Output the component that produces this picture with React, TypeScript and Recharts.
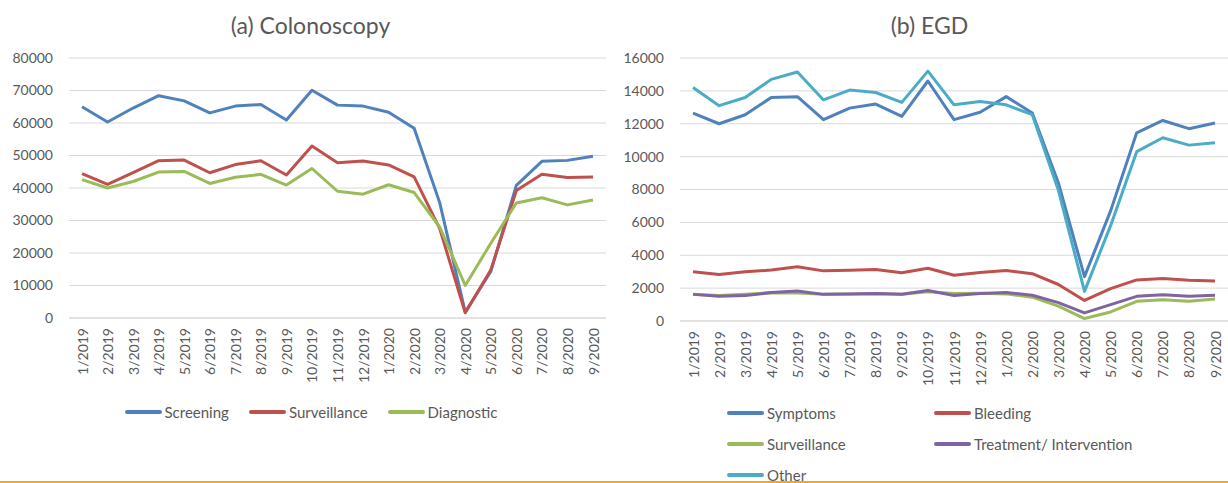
import { CartesianGrid, Legend, Line, LineChart, XAxis, YAxis } from "recharts"

const months = [
  "1/2019", "2/2019", "3/2019", "4/2019", "5/2019", "6/2019", "7/2019",
  "8/2019", "9/2019", "10/2019", "11/2019", "12/2019", "1/2020", "2/2020",
  "3/2020", "4/2020", "5/2020", "6/2020", "7/2020", "8/2020", "9/2020",
]

// (a) Colonoscopy
const screening = [65000, 60300, 64600, 68400, 66800, 63100, 65200, 65700, 60900, 70100, 65500, 65200, 63300, 58400, 35500, 1800, 14300, 40800, 48200, 48500, 49800]
const colonSurveillance = [44400, 41100, 44700, 48400, 48600, 44700, 47200, 48400, 44000, 52900, 47800, 48300, 47100, 43400, 27500, 1600, 14800, 39200, 44200, 43200, 43400]
const diagnostic = [42600, 40000, 42000, 44900, 45100, 41400, 43300, 44200, 40900, 46000, 39000, 38100, 41000, 38600, 28000, 10000, 23000, 35400, 37000, 34800, 36300]

// (b) EGD
const symptoms = [12650, 12000, 12550, 13600, 13650, 12250, 12950, 13200, 12450, 14600, 12250, 12700, 13650, 12650, 8400, 2700, 6700, 11450, 12200, 11700, 12050]
const bleeding = [3000, 2830, 3000, 3100, 3300, 3050, 3090, 3130, 2930, 3210, 2780, 2950, 3070, 2880, 2220, 1250, 1970, 2500, 2580, 2480, 2440]
const egdSurveillance = [1620, 1550, 1620, 1720, 1700, 1620, 1650, 1660, 1630, 1780, 1680, 1690, 1650, 1450, 900, 150, 550, 1200, 1300, 1200, 1340]
const treatment = [1620, 1500, 1550, 1730, 1820, 1620, 1650, 1670, 1630, 1850, 1550, 1670, 1730, 1570, 1120, 490, 1000, 1500, 1600, 1500, 1570]
const other = [14200, 13100, 13600, 14700, 15150, 13450, 14050, 13900, 13300, 15200, 13150, 13350, 13150, 12550, 7950, 1800, 5800, 10300, 11150, 10700, 10850]

const colonTicks = [0, 10000, 20000, 30000, 40000, 50000, 60000, 70000, 80000]
const egdTicks = [0, 2000, 4000, 6000, 8000, 10000, 12000, 14000, 16000]

const colonData = months.map((month, i) => ({
  month,
  screening: screening[i],
  surveillance: colonSurveillance[i],
  diagnostic: diagnostic[i],
}))

const egdData = months.map((month, i) => ({
  month,
  symptoms: symptoms[i],
  bleeding: bleeding[i],
  surveillance: egdSurveillance[i],
  treatment: treatment[i],
  other: other[i],
}))

const colonSeries = [
  { key: "screening", name: "Screening", color: "#4f81bd" },
  { key: "surveillance", name: "Surveillance", color: "#c0504d" },
  { key: "diagnostic", name: "Diagnostic", color: "#9bbb59" },
]

const egdSeries = [
  { key: "symptoms", name: "Symptoms", color: "#4f81bd" },
  { key: "bleeding", name: "Bleeding", color: "#c0504d" },
  { key: "surveillance", name: "Surveillance", color: "#9bbb59" },
  { key: "treatment", name: "Treatment/ Intervention", color: "#8064a2" },
  { key: "other", name: "Other", color: "#4bacc6" },
]

const FONT = "Lato, 'Open Sans', sans-serif"
const TEXT = "#595959"
const GRID = "#d9d9d9"

const MonthTick = (props: any) => {
  const { x, y, payload } = props
  return (
    <text
      x={x}
      y={y}
      transform={`rotate(-90 ${x} ${y})`}
      textAnchor="end"
      dominantBaseline="central"
      fill={TEXT}
      fontSize={14}
      fontFamily={FONT}
    >
      {payload.value}
    </text>
  )
}

const LegendItem = ({ color, label }: { color: string; label: string }) => (
  <div style={{ display: "flex", alignItems: "center", height: 24 }}>
    <span style={{ display: "inline-block", width: 37, height: 4, borderRadius: 2, background: color, marginRight: 3 }} />
    <span style={{ color: TEXT, fontSize: 15, fontFamily: FONT, whiteSpace: "nowrap" }}>{label}</span>
  </div>
)

// keep legend entries in series order (recharts sorts them by name otherwise)
const inSeriesOrder = (payload: any[], series: { name: string }[]) =>
  [...(payload || [])].sort(
    (a, b) => series.findIndex((s) => s.name === a.value) - series.findIndex((s) => s.name === b.value)
  )

const rowLegend = (props: any) => (
  <div style={{ display: "flex", justifyContent: "center", gap: 20, marginLeft: 7 }}>
    {inSeriesOrder(props.payload, colonSeries).map((p: any) => (
      <LegendItem key={p.value} color={p.color} label={p.value} />
    ))}
  </div>
)

const gridLegend = (props: any) => (
  <div style={{ display: "grid", gridTemplateColumns: "207px 207px", rowGap: 7, marginLeft: 112 }}>
    {inSeriesOrder(props.payload, egdSeries).map((p: any) => (
      <LegendItem key={p.value} color={p.color} label={p.value} />
    ))}
  </div>
)

const titleStyle = (left: number): React.CSSProperties => ({
  position: "absolute",
  left,
  top: 13,
  width: 615,
  textAlign: "center",
  fontFamily: FONT,
  fontSize: 23,
  lineHeight: "24px",
  color: TEXT,
})

export default function App() {
  return (
    <div style={{ position: "absolute", left: 0, top: 0, width: 1228, height: 483, background: "#fff", overflow: "hidden" }}>
      <div style={titleStyle(3)}>(a) Colonoscopy</div>
      <div style={titleStyle(622)}>(b) EGD</div>

      <div style={{ position: "absolute", left: 0, top: 0 }}>
        <LineChart width={615} height={483} data={colonData} margin={{ top: 58, right: 9, bottom: 0, left: 0 }}>
          <CartesianGrid vertical={false} stroke={GRID} />
          <XAxis
            dataKey="month"
            interval={0}
            height={165}
            padding={{ left: 13, right: 13 }}
            tickLine={false}
            tickSize={0}
            tickMargin={10}
            axisLine={{ stroke: GRID }}
            tick={<MonthTick />}
          />
          <YAxis
            domain={[0, 80000]}
            ticks={colonTicks}
            width={69}
            axisLine={false}
            tickLine={false}
            tickSize={0}
            tickMargin={16}
            tick={{ fill: TEXT, fontSize: 14, fontFamily: FONT }}
          />
          <Legend
            verticalAlign="middle"
            align="center"
            itemSorter={null}
            content={rowLegend}
            wrapperStyle={{ top: 400, left: 0, width: 615, height: 24 }}
          />
          {colonSeries.map((s) => (
            <Line
              key={s.key}
              type="linear"
              dataKey={s.key}
              name={s.name}
              stroke={s.color}
              strokeWidth={3}
              strokeLinejoin="round"
              dot={false}
              isAnimationActive={false}
            />
          ))}
        </LineChart>
      </div>

      <div style={{ position: "absolute", left: 615, top: 0 }}>
        <LineChart width={613} height={483} data={egdData} margin={{ top: 58, right: 0, bottom: 0, left: 0 }}>
          <CartesianGrid vertical={false} stroke={GRID} />
          <XAxis
            dataKey="month"
            interval={0}
            height={162}
            padding={{ left: 13, right: 13 }}
            tickLine={false}
            tickSize={0}
            tickMargin={10}
            axisLine={{ stroke: GRID }}
            tick={<MonthTick />}
          />
          <YAxis
            domain={[0, 16000]}
            ticks={egdTicks}
            width={65}
            axisLine={false}
            tickLine={false}
            tickSize={0}
            tickMargin={16}
            tick={{ fill: TEXT, fontSize: 14, fontFamily: FONT }}
          />
          <Legend
            verticalAlign="middle"
            align="center"
            itemSorter={null}
            content={gridLegend}
            wrapperStyle={{ top: 401, left: 0, width: 613, height: 80 }}
          />
          {egdSeries.map((s) => (
            <Line
              key={s.key}
              type="linear"
              dataKey={s.key}
              name={s.name}
              stroke={s.color}
              strokeWidth={3}
              strokeLinejoin="round"
              dot={false}
              isAnimationActive={false}
            />
          ))}
        </LineChart>
      </div>

      <div style={{ position: "absolute", left: 0, top: 481, width: 1228, height: 2, background: "#f5a623", zIndex: 5 }} />
    </div>
  )
}
